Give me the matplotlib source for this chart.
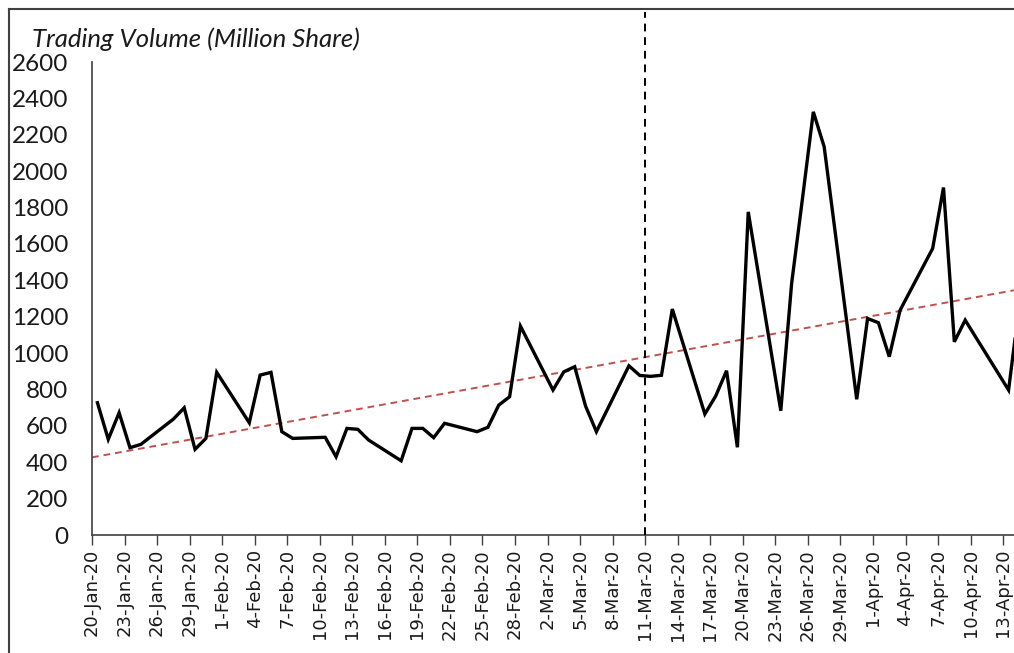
import matplotlib
matplotlib.use("Agg")
import matplotlib.pyplot as plt
import matplotlib.dates as mdates
from matplotlib.lines import Line2D
import numpy as np
import pandas as pd

dates = ["2020-01-20", "2020-01-21", "2020-01-22", "2020-01-23", "2020-01-24",
         "2020-01-27", "2020-01-28", "2020-01-29", "2020-01-30", "2020-01-31",
         "2020-02-03", "2020-02-04", "2020-02-05", "2020-02-06", "2020-02-07",
         "2020-02-10", "2020-02-11", "2020-02-12", "2020-02-13", "2020-02-14",
         "2020-02-17", "2020-02-18", "2020-02-19", "2020-02-20", "2020-02-21",
         "2020-02-24", "2020-02-25", "2020-02-26", "2020-02-27", "2020-02-28",
         "2020-03-02", "2020-03-03", "2020-03-04", "2020-03-05", "2020-03-06",
         "2020-03-09", "2020-03-10", "2020-03-11", "2020-03-12", "2020-03-13",
         "2020-03-16", "2020-03-17", "2020-03-18", "2020-03-19", "2020-03-20",
         "2020-03-23", "2020-03-24", "2020-03-25", "2020-03-26", "2020-03-27",
         "2020-03-30", "2020-03-31", "2020-04-01", "2020-04-02", "2020-04-03",
         "2020-04-06", "2020-04-07", "2020-04-08", "2020-04-09", "2020-04-13",
         "2020-04-14"]
volume = [727, 526, 672, 480, 498,
          637, 699, 471, 531, 894,
          617, 879, 894, 568, 531,
          537, 430, 586, 581, 522,
          408, 586, 586, 535, 614,
          568, 592, 714, 760, 1148,
          797, 897, 925, 709, 568,
          930, 877, 872, 878, 1242,
          665, 764, 903, 482, 1776,
          683, 1383, 1850, 2326, 2134,
          746, 1190, 1167, 980, 1236,
          1575, 1910, 1062, 1181, 797,
          1270]
event_date = "2020-03-11"
x_start, x_end = "2020-01-20", "2020-04-14"
y_ticks = list(range(0, 2601, 200))
title = "Trading Volume (Million Share)"

W, H = 1014, 653
fig = plt.figure(figsize=(W / 100, H / 100), dpi=100)
ax = fig.add_axes([92 / W, (H - 535) / H, (W - 92) / W, (535 - 62) / H])

d = pd.to_datetime(dates)
# Excel date axis "between tick marks": points centred in each day
xp = mdates.date2num(d) + 0.5
ax.plot(xp, volume, color="black", lw=2.4, solid_joinstyle="miter", zorder=3)

# linear trend line
coef = np.polyfit(xp, volume, 1)
x0 = mdates.date2num(pd.Timestamp(x_start))
x1 = mdates.date2num(pd.Timestamp(x_end))
tx = np.array([x0, x1])
ax.plot(tx, np.polyval(coef, tx), color="#C0504D", lw=1.4, ls=(0, (3.5, 2.5)), zorder=2)

# event line
ev = mdates.date2num(pd.Timestamp(event_date))
ax.axvline(ev, ymin=0, ymax=(535 - 12) / (535 - 62), color="black", lw=1.4,
           ls=(0, (4, 3)), clip_on=False, zorder=4)

ax.set_xlim(x0, x1)
ax.set_ylim(0, 2600)
ax.set_yticks(y_ticks)
ax.set_yticklabels([str(v) for v in y_ticks], fontsize=17.5, family="Lato", color="#1a1a1a")
ax.tick_params(axis="y", length=0, pad=17)

xt = np.arange(x0, x1 + 0.1, 3)
ax.set_xticks(xt)
ax.set_xticklabels([mdates.num2date(v).strftime("%-d-%b-%y") for v in xt],
                   rotation=90, fontsize=13, family="DejaVu Sans", color="#1a1a1a")
ax.tick_params(axis="x", length=7, width=1, color="#404040", pad=3)

for s in ["top", "right"]:
    ax.spines[s].set_visible(False)
for s in ["left", "bottom"]:
    ax.spines[s].set_color("#404040")
    ax.spines[s].set_linewidth(1.2)

fig.text(32 / W, 1 - 47 / H, title, fontsize=18.5, family="Lato", style="italic",
         color="#1a1a1a", va="baseline", ha="left")

# outer chart frame (left and top visible)
fig.add_artist(Line2D([9 / W, 9 / W], [0, 1 - 9 / H], transform=fig.transFigure,
                      color="#404040", lw=1.5))
fig.add_artist(Line2D([9 / W, 1], [1 - 9 / H, 1 - 9 / H], transform=fig.transFigure,
                      color="#404040", lw=1.5))

fig.savefig("out.png", dpi=100)
